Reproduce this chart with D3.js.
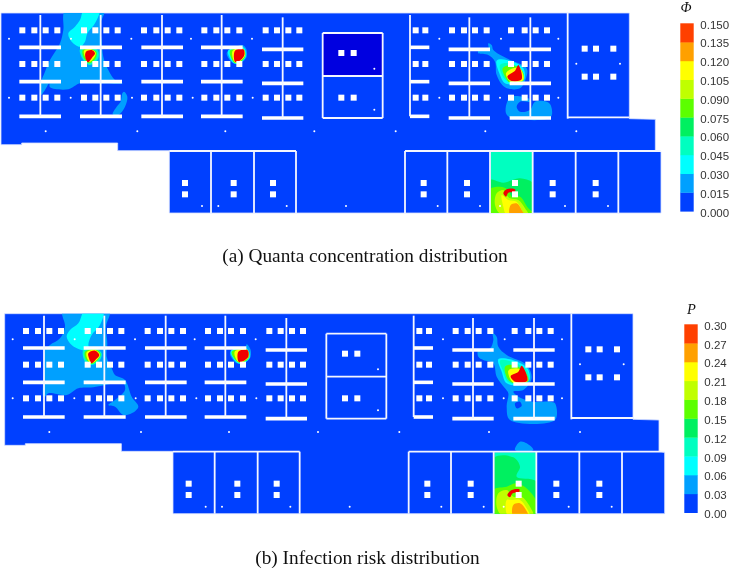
<!DOCTYPE html>
<html>
<head>
  <meta charset="utf-8">
  <title>Quanta concentration and infection risk distribution</title>
  <style>
    html, body { margin: 0; padding: 0; background: white; }
    svg { display: block; filter: blur(0.3px); }
    .caption { font-family: "Liberation Serif", serif; font-size: 19.3px; fill: #111; text-anchor: middle; }
    .bar-title { font-family: "Liberation Serif", serif; font-style: italic; font-size: 14.5px; fill: #111; text-anchor: middle; }
    .tick text { font-family: "Liberation Sans", Arial, sans-serif; font-size: 11.5px; fill: #333; }
  </style>
  <script src="https://d3js.org/d3.v7.min.js"></script>
</head>
<body>
  <svg id="chart" width="729" height="571"></svg>
  <script>
    // Floor plan, in plan units (3 units = 1 screen pixel)
    const outline = [[3,39],[1888,39],[1888,356],[1966,358],[1966,451],[1983,455],[1983,639],[508,639],[508,452],[353,452],[353,429],[65,429],[65,434],[3,434]];
    const gridColX = [67,103,137,172,252,286,319,353,432,469,503,538,613,649,682,718,797,831,865,898,1247,1276,1356,1392,1425,1460,1533,1574,1607,1641];
    const gridColY = [91,192,293];
    const lowerColX = [555,701,819,1271,1401,1545,1658,1787];
    const lowerColY = [549,583];
    const roomCols = [[1024,159],[1061,159],[1024,293],[1061,293],[1754,146],[1788,146],[1840,146],[1754,230],[1788,230],[1840,230]];
    const dots = [[27,116],[213,116],[394,116],[573,116],[756,116],[1318,116],[1503,116],[1675,116],
      [27,293],[212,293],[396,293],[578,293],[758,293],[1318,293],[1500,293],[1675,293],
      [137,394],[412,394],[676,394],[943,394],[1187,394],[1456,394],[1729,394],
      [1123,206],[1123,329],[1729,191],[1860,191],
      [606,618],[655,618],[860,618],[1038,618],[1313,618],[1440,618],[1500,618],[1695,618],[1824,618]];
    // x1, x2, y of the thick partition bars
    const bars = [[58,183,142],[240,366,142],[424,549,142],[603,728,142],[1230,1288,142],
      [58,183,245],[240,366,245],[424,549,245],[603,728,245],[1230,1288,245],
      [58,183,349],[240,366,349],[424,549,349],[603,728,349],[1230,1288,349],
      [786,910,148],[1346,1470,148],[1529,1653,148],
      [786,910,250],[1346,1470,250],[1529,1653,250],
      [786,910,354],[1346,1470,354],[1529,1653,354]];
    // x1, y1, x2, y2 of the thin walls
    const walls = [[121,45,121,349],[302,45,302,349],[486,45,486,349],[665,45,665,349],[848,52,848,354],
      [1408,52,1408,354],[1591,52,1591,354],[1230,45,1230,349],[1703,39,1703,356],[1703,352,1888,352],
      [968,99,1148,99],[968,354,1148,354],[968,228,1148,228],[968,99,968,354],[1148,99,1148,354],
      [508,453,888,453],[633,453,633,639],[762,453,762,639],[888,453,888,639],
      [1215,453,1983,453],[1215,453,1215,639],[1342,453,1342,639],[1470,453,1470,639],[1598,453,1598,639],[1727,453,1727,639],[1855,453,1855,639]];
    const dimRoom = [968,99,1148,228];
    const plumeRoom = [1472,455,1597,639];

    // Colour bars
    const phiTicks = [0,0.015,0.03,0.045,0.06,0.075,0.09,0.105,0.12,0.135,0.15];
    const riskTicks = [0,0.03,0.06,0.09,0.12,0.15,0.18,0.21,0.24,0.27,0.30];
    const bandColors = ["#0040ff","#00a0ff","#00ffff","#00ffc0","#00f060","#5cff00","#c0ff00","#ffff00","#ffa000","#ff4000"];
    const coreColor = "#f00000";

    // Contour regions of panel (a): [value, outline]
    const plumesA = [
      [0.02,[[196,30],[312,30],[300,75],[305,120],[310,170],[325,210],[345,240],[368,250],[300,250],[240,250],[205,268],[150,262],[148,250],[135,270],[123,285],[122,250],[135,215],[150,180],[180,130],[190,90]]],
      [0.02,[[372,275],[382,290],[375,320],[355,345],[338,343],[350,320],[362,305],[367,280]]],
      [0.035,[[252,30],[298,30],[285,70],[262,100],[255,125],[240,140],[215,125],[205,100],[225,80],[240,60]]],
      [0.05,[[240,148],[270,143],[293,150],[295,175],[270,195],[250,180]]],
      [0.08,[[248,150],[270,146],[289,155],[287,175],[268,190],[252,175]]],
      [0.11,[[252,152],[272,148],[287,158],[283,172],[268,186],[256,172]]],
      [0.16,[[258,155],[275,150],[285,160],[277,172],[264,187],[256,172]]],
      [0.02,[[727,135],[738,145],[740,170],[720,190],[700,190],[680,160],[700,145]]],
      [0.035,[[684,152],[730,142],[738,168],[718,190],[702,190]]],
      [0.08,[[690,152],[730,146],[736,168],[718,188],[703,188]]],
      [0.11,[[698,152],[730,147],[735,166],[716,186],[704,186]]],
      [0.16,[[705,152],[730,148],[733,165],[715,185],[705,185]]],
      [0.02,[[1465,130],[1475,135],[1480,150],[1520,175],[1580,205],[1578,235],[1560,265],[1515,262],[1490,225],[1485,185],[1465,165],[1435,160],[1435,152],[1465,150]]],
      [0.02,[[1520,310],[1532,290],[1585,295],[1590,305],[1560,305],[1550,320],[1560,335],[1590,330],[1605,305],[1640,305],[1652,315],[1652,352],[1530,352],[1518,340]]],
      [0.035,[[1490,182],[1520,180],[1570,205],[1572,240],[1550,250],[1515,250],[1498,220]]],
      [0.05,[[1500,195],[1530,190],[1568,215],[1570,240],[1535,248],[1512,235]]],
      [0.08,[[1508,205],[1535,195],[1565,210],[1570,242],[1530,248],[1515,230]]],
      [0.11,[[1518,220],[1540,205],[1560,205],[1570,240],[1530,243]]],
      [0.16,[[1522,230],[1545,212],[1555,195],[1565,238],[1535,243]]]
    ];
    const roomPlumesA = [
      [0.05,[[1460,440],[1610,440],[1610,650],[1460,650]]],
      [0.065,[[1465,540],[1510,548],[1560,535],[1605,555],[1605,645],[1465,645]]],
      [0.08,[[1465,570],[1500,560],[1525,570],[1535,590],[1560,590],[1585,625],[1605,645],[1465,645]]],
      [0.1,[[1490,580],[1510,570],[1520,585],[1530,595],[1555,600],[1575,625],[1585,645],[1505,645],[1485,615]]],
      [0.115,[[1505,585],[1525,600],[1550,605],[1565,630],[1570,645],[1520,645],[1510,620]]],
      [0.13,[[1532,615],[1550,610],[1565,630],[1572,645],[1530,645]]],
      [0.16,[[1510,580],[1520,568],[1545,568],[1545,575],[1525,578],[1518,590]]]
    ];

    // Contour regions of panel (b): [value, outline]
    const plumesB = [
      [0.04,[[188,30],[328,30],[318,80],[322,130],[320,170],[335,205],[345,225],[375,240],[395,290],[415,320],[395,340],[370,345],[345,320],[325,315],[345,300],[375,270],[370,250],[345,250],[280,262],[235,265],[200,285],[145,280],[135,290],[130,290],[133,200],[135,150],[150,135],[180,115],[195,80]]],
      [0.07,[[255,30],[310,30],[300,75],[275,105],[265,135],[270,150],[245,150],[215,135],[200,110],[210,90],[235,70]]],
      [0.1,[[250,150],[285,145],[305,160],[300,180],[275,195],[255,185]]],
      [0.16,[[255,155],[285,148],[302,162],[295,178],[275,192],[258,178]]],
      [0.22,[[260,157],[285,150],[300,164],[292,178],[275,190],[262,176]]],
      [0.32,[[265,160],[285,152],[298,165],[288,178],[275,190],[267,175]]],
      [0.04,[[740,133],[752,150],[750,175],[730,190],[710,190],[690,160],[710,148],[735,148]]],
      [0.07,[[692,153],[738,144],[750,170],[730,190],[711,188]]],
      [0.16,[[695,155],[740,148],[748,170],[728,188],[712,185]]],
      [0.22,[[704,155],[741,149],[746,170],[726,186],[714,185]]],
      [0.32,[[715,155],[742,150],[745,170],[725,185],[716,185]]],
      [0.04,[[1478,100],[1490,110],[1495,140],[1520,165],[1580,195],[1595,235],[1570,270],[1540,275],[1555,290],[1600,305],[1650,305],[1665,310],[1665,360],[1530,360],[1520,320],[1525,280],[1515,265],[1490,230],[1480,190],[1450,180],[1435,170],[1435,150],[1470,145],[1480,120]]],
      [0.01,[[1545,310],[1560,305],[1565,318],[1550,325]]],
      [0.04,[[1545,450],[1560,425],[1580,430],[1600,450]]],
      [0.07,[[1495,178],[1530,178],[1582,205],[1588,240],[1560,255],[1520,250],[1505,215]]],
      [0.1,[[1500,182],[1525,182],[1580,210],[1585,240],[1555,252],[1523,245],[1510,215]]],
      [0.16,[[1515,200],[1540,195],[1575,215],[1585,243],[1545,250],[1525,240]]],
      [0.22,[[1525,212],[1550,205],[1575,220],[1582,243],[1540,248]]],
      [0.32,[[1532,228],[1555,215],[1565,197],[1582,242],[1545,245]]]
    ];
    const roomPlumesB = [
      [0.1,[[1475,445],[1620,445],[1620,650],[1475,650]]],
      [0.13,[[1480,475],[1540,472],[1560,500],[1550,530],[1610,545],[1610,650],[1480,650]]],
      [0.16,[[1480,570],[1520,560],[1550,550],[1585,570],[1612,610],[1612,650],[1480,650]]],
      [0.2,[[1495,580],[1520,570],[1540,590],[1565,590],[1590,620],[1600,650],[1510,650],[1490,620]]],
      [0.23,[[1520,600],[1535,600],[1560,600],[1580,625],[1590,650],[1525,650]]],
      [0.26,[[1540,615],[1560,610],[1578,630],[1585,650],[1540,650]]],
      [0.32,[[1522,585],[1535,570],[1558,568],[1558,575],[1538,580],[1530,592]]]
    ];

    const svg = d3.select("#chart");
    const blob = d3.line().curve(d3.curveCatmullRomClosed.alpha(0.5));

    const drawPanel = (id, o, ticks, plumes, roomPlumes, room, dim) => {
      // plan scales, plus plain ones for the contour regions (traced without the panel shift)
      const x = d3.scaleLinear().domain([0, 2187]).range([o.x, o.x + 729]);
      const y = d3.scaleLinear().domain([0, 1713]).range([o.y, o.y + 571]);
      const px = d3.scaleLinear().domain([0, 2187]).range([0, 729]);
      const py = d3.scaleLinear().domain([0, 1713]).range([o.py, o.py + 571]);
      const color = d3.scaleThreshold().domain(ticks.slice(1)).range(bandColors.concat([coreColor]));
      const path = pts => blob(pts.map(p => [px(p[0]), py(p[1])]));

      const defs = svg.append("defs");
      defs.append("clipPath").attr("id", "plan-" + id).append("polygon")
        .attr("points", outline.map(p => [x(p[0]), y(p[1])].join(",")).join(" "));
      defs.append("clipPath").attr("id", "room-" + id).append("rect")
        .attr("x", x(room[0])).attr("y", y(room[1]))
        .attr("width", x(room[2]) - x(room[0])).attr("height", y(room[3]) - y(room[1]));

      const g = svg.append("g");
      g.append("polygon")
        .attr("points", outline.map(p => [x(p[0]), y(p[1])].join(",")).join(" "))
        .attr("fill", bandColors[0]).attr("stroke", "#d5e0ff").attr("stroke-width", 0.8);
      if (dim) {
        g.append("rect").attr("x", x(dim[0])).attr("y", y(dim[1]))
          .attr("width", x(dim[2]) - x(dim[0])).attr("height", y(dim[3]) - y(dim[1]))
          .attr("fill", "#0000e0");
      }
      g.append("g").attr("clip-path", `url(#plan-${id})`).selectAll("path").data(plumes).enter().append("path")
        .attr("d", d => path(d[1])).attr("fill", d => color(d[0]));
      g.append("g").attr("clip-path", `url(#room-${id})`).selectAll("path").data(roomPlumes).enter().append("path")
        .attr("d", d => path(d[1])).attr("fill", d => color(d[0]));

      g.selectAll(".bar").data(bars).enter().append("line").attr("class", "bar")
        .attr("x1", d => x(d[0])).attr("x2", d => x(d[1])).attr("y1", d => y(d[2])).attr("y2", d => y(d[2]))
        .attr("stroke", "white").attr("stroke-width", 3.6);
      g.selectAll(".wall").data(walls).enter().append("line").attr("class", "wall")
        .attr("x1", d => x(d[0])).attr("x2", d => x(d[2])).attr("y1", d => y(d[1])).attr("y2", d => y(d[3]))
        .attr("stroke", "#f4f6ff").attr("stroke-width", 1.8);

      const cols = d3.cross(gridColX, gridColY).concat(d3.cross(lowerColX, lowerColY)).concat(roomCols);
      g.selectAll(".col").data(cols).enter().append("rect").attr("class", "col")
        .attr("x", d => x(d[0]) - 3).attr("y", d => y(d[1]) - 3)
        .attr("width", 6).attr("height", 6).attr("fill", "white");
      g.selectAll(".dot").data(dots).enter().append("circle").attr("class", "dot")
        .attr("cx", d => x(d[0])).attr("cy", d => y(d[1])).attr("r", 1).attr("fill", "white");
    };

    const drawBar = (o, ticks, title, fmt) => {
      const barY = d3.scaleLinear().domain([ticks[0], ticks[10]]).range([o.bottom, o.top]);
      const g = svg.append("g");
      g.selectAll("rect").data(bandColors).enter().append("rect")
        .attr("x", o.x).attr("width", 13.4)
        .attr("y", (d, i) => barY(ticks[i + 1]))
        .attr("height", (d, i) => barY(ticks[i]) - barY(ticks[i + 1]) + 0.3)
        .attr("fill", d => d);
      const axis = g.append("g").attr("transform", `translate(${o.x + 14},1.2)`)
        .call(d3.axisRight(barY).tickValues(ticks).tickSize(0).tickPadding(6).tickFormat(d3.format(fmt)));
      axis.select(".domain").remove();
      g.append("text").attr("class", "bar-title").attr("x", o.titleX).attr("y", o.titleY).text(title);
    };

    drawPanel("a", {x: 0, y: 0, py: 0}, phiTicks, plumesA, roomPlumesA, plumeRoom, dimRoom);
    drawPanel("b", {x: 3.67, y: 300.67, py: 300}, riskTicks, plumesB, roomPlumesB, plumeRoom, null);

    drawBar({x: 680.3, top: 23.3, bottom: 211.3, titleX: 686, titleY: 11.5}, phiTicks, "Φ", ".3f");
    drawBar({x: 684.3, top: 324.3, bottom: 512.7, titleX: 691.5, titleY: 314}, riskTicks, "P", ".2f");

    svg.append("text").attr("class", "caption").attr("x", 365).attr("y", 262).text("(a) Quanta concentration distribution");
    svg.append("text").attr("class", "caption").attr("x", 367.5).attr("y", 564).text("(b) Infection risk distribution");
  </script>
</body>
</html>
